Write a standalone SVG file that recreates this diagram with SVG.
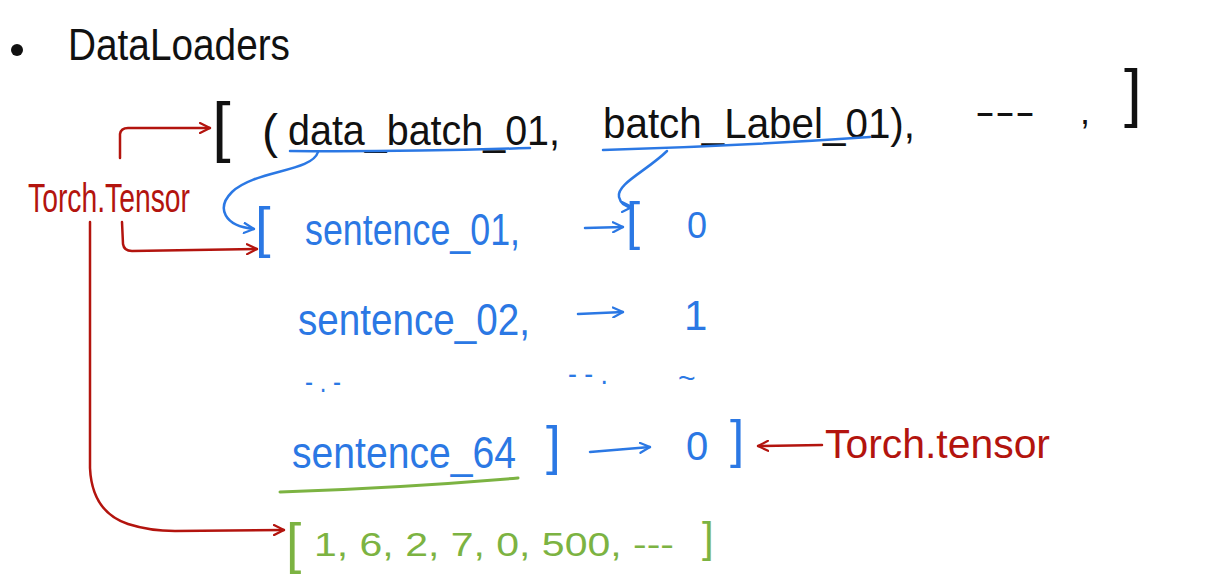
<svg xmlns="http://www.w3.org/2000/svg" width="1206" height="586" viewBox="0 0 1206 586">
<defs>
<style>
.t{font-family:"Liberation Sans",Arial,sans-serif;}
.k{fill:#111;}
.b{fill:#2b78e4;}
.r{fill:#b3140e;}
.g{fill:#7cb342;}
.ln{fill:none;stroke-linecap:round;stroke-linejoin:round;}
.lr{stroke:#b3140e;stroke-width:2.5;}
.lb{stroke:#2b78e4;stroke-width:2.5;}
.lg{stroke:#7cb342;stroke-width:3;}
</style>
<marker id="ar" viewBox="0 0 12 12" refX="11" refY="6" markerWidth="12" markerHeight="12" markerUnits="userSpaceOnUse" orient="auto">
<path d="M1,1 L11,6 L1,11" fill="none" stroke="#b3140e" stroke-width="2.2" stroke-linecap="round" stroke-linejoin="round"/>
</marker>
<marker id="ab" viewBox="0 0 12 12" refX="11" refY="6" markerWidth="12" markerHeight="12" markerUnits="userSpaceOnUse" orient="auto">
<path d="M1,1 L11,6 L1,11" fill="none" stroke="#2b78e4" stroke-width="2.2" stroke-linecap="round" stroke-linejoin="round"/>
</marker>
</defs>
<rect width="1206" height="586" fill="#ffffff"/>

<g id="title">
<circle cx="17" cy="50" r="6" fill="#111"/>
<text class="t k" x="68" y="60" font-size="44" textLength="222" lengthAdjust="spacingAndGlyphs">DataLoaders</text>
</g>

<g id="top-list">
<text class="t k" x="212" y="149" font-size="67">[</text>
<text class="t k" x="262" y="148" font-size="48">(</text>
<text class="t k" x="288" y="145" font-size="42" textLength="272" lengthAdjust="spacingAndGlyphs">data_batch_01,</text>
<text class="t k" x="603" y="138" font-size="42" textLength="312" lengthAdjust="spacingAndGlyphs">batch_Label_01),</text>
<text class="t k" x="975" y="124" font-size="36" textLength="60" lengthAdjust="spacingAndGlyphs">---</text>
<text class="t k" x="1080" y="124" font-size="36">,</text>
<text class="t k" x="1124" y="115" font-size="64">]</text>
</g>

<g id="label-torch-tensor-left">
<text class="t r" x="28" y="212" font-size="40" textLength="162" lengthAdjust="spacingAndGlyphs">Torch.Tensor</text>
</g>

<g id="batch-data">
<text class="t b" x="255" y="246" font-size="56">[</text>
<text class="t b" x="305" y="245" font-size="44" textLength="215" lengthAdjust="spacingAndGlyphs">sentence_01,</text>
<text class="t b" x="298" y="335" font-size="44" textLength="232" lengthAdjust="spacingAndGlyphs">sentence_02,</text>
<text class="t b" x="305" y="392" font-size="30" textLength="36" lengthAdjust="spacingAndGlyphs">- . -</text>
<text class="t b" x="292" y="468" font-size="44" textLength="224" lengthAdjust="spacingAndGlyphs">sentence_64</text>
<text class="t b" x="546" y="464" font-size="53">]</text>
</g>

<g id="batch-labels">
<text class="t b" x="626" y="239" font-size="51">[</text>
<text class="t b" x="687" y="238" font-size="36">0</text>
<text class="t b" x="684" y="330" font-size="42">1</text>
<text class="t b" x="568" y="384" font-size="30" textLength="40" lengthAdjust="spacingAndGlyphs">- - .</text>
<text class="t b" x="678" y="388" font-size="30">~</text>
<text class="t b" x="686" y="460" font-size="40">0</text>
<text class="t b" x="730" y="457" font-size="51">]</text>
</g>

<g id="label-torch-tensor-right">
<text class="t r" x="825" y="458" font-size="40" textLength="225" lengthAdjust="spacingAndGlyphs">Torch.tensor</text>
</g>

<g id="token-ids">
<text class="t g" x="286" y="562" font-size="55">[</text>
<text class="t g" x="314" y="556" font-size="33" textLength="360" lengthAdjust="spacingAndGlyphs">1,  6,  2,  7,  0,  500,  ---</text>
<text class="t g" x="702" y="552" font-size="42">]</text>
</g>

<g id="underlines">
<path class="ln lb" d="M290,151 Q400,152 530,148"/>
<path class="ln lb" d="M603,150 Q740,146 870,137"/>
<path class="ln lg" d="M280,492 Q400,488 518,478"/>
</g>

<g id="connectors">
<path class="ln lr" d="M120,158 L120,134 Q121,128 128,128 L210,128" marker-end="url(#ar)"/>
<path class="ln lr" d="M122,222 L123,244 Q124,251 132,251 L257,249" marker-end="url(#ar)"/>
<path class="ln lr" d="M90,222 L90,468 Q92,512 128,524 Q150,531 175,531 L284,530" marker-end="url(#ar)"/>
<path class="ln lr" d="M822,445 L758,446" marker-end="url(#ar)"/>
<path class="ln lb" d="M318,152 C312,172 255,170 232,192 C216,208 224,226 254,229" marker-end="url(#ab)"/>
<path class="ln lb" d="M667,151 C648,170 616,184 619,197 C621,205 626,207 632,207" marker-end="url(#ab)"/>
<path class="ln lb" d="M585,228 L623,227" marker-end="url(#ab)"/>
<path class="ln lb" d="M578,314 L623,312" marker-end="url(#ab)"/>
<path class="ln lb" d="M590,452 L650,447" marker-end="url(#ab)"/>
</g>
</svg>
